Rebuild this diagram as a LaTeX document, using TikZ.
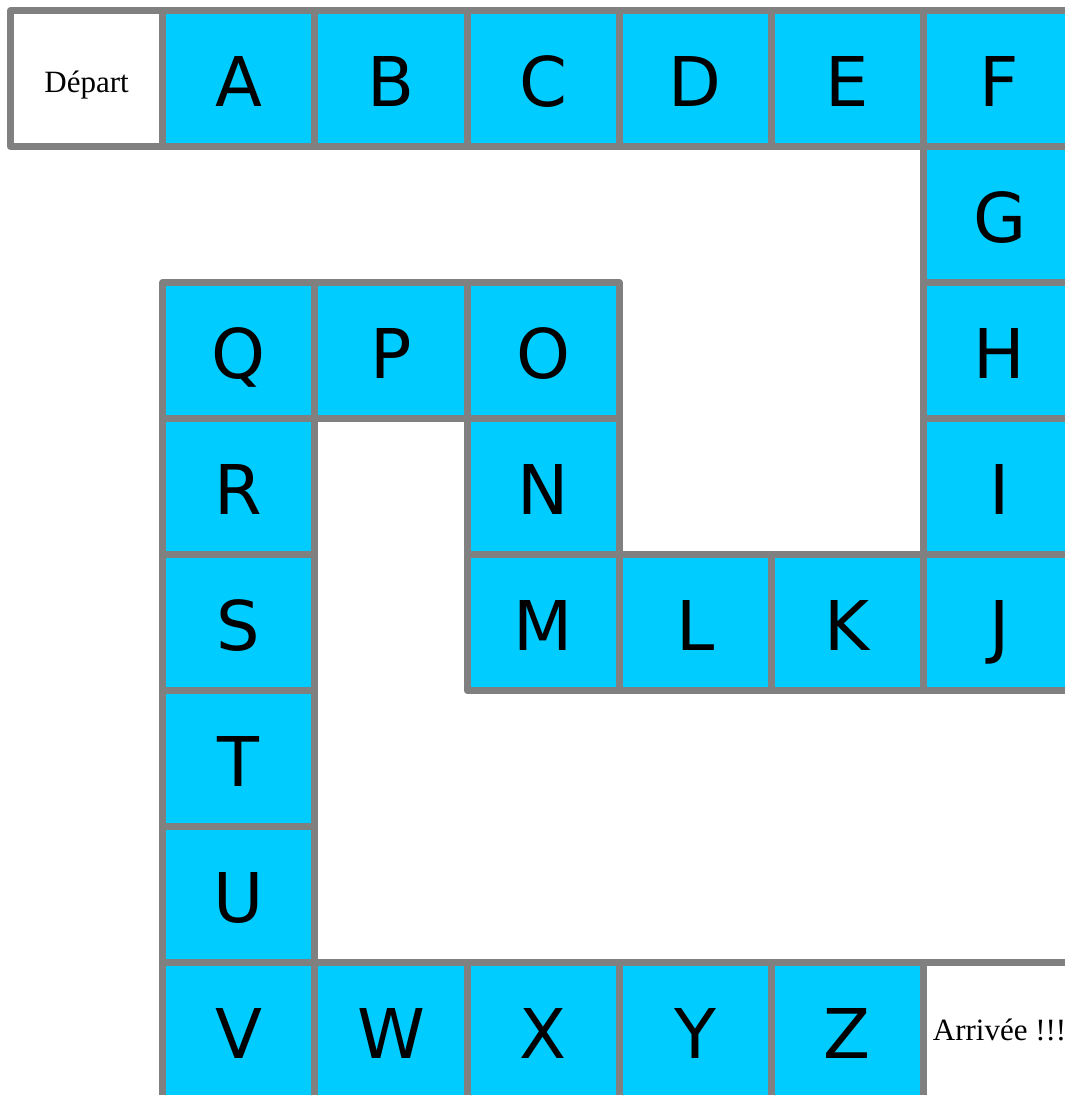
\documentclass[tikz,border=0pt]{standalone}
\usepackage{fontspec}
\setmainfont{Liberation Serif}
\newfontfamily\lettfont{DejaVu Sans}
\definecolor{cellblue}{HTML}{00CCFF}
\definecolor{cellgray}{HTML}{808080}
\tikzset{
  cellbox/.style={draw=cellgray, line width=7pt, line join=round, fill=cellblue,
    minimum width=152.17pt, minimum height=136pt, inner sep=0pt, outer sep=0pt,
    font=\lettfont\fontsize{68.6pt}{70pt}\selectfont, text height=56pt, text depth=0pt},
  endbox/.style={cellbox, fill=white, font=\fontsize{31pt}{33pt}\selectfont}
}
\newcommand{\cx}[1]{\fpeval{10.5+152.17*(#1+0.5)}}
\newcommand{\cy}[1]{\fpeval{10.5+136*(#1+0.5)}}
\begin{document}
\begin{tikzpicture}[x=1pt,y=-1pt]
\useasboundingbox (0,0) rectangle (1065,1095);
\begin{scope}
\clip (0,0) rectangle (1065,1095);
\node[endbox, text height=27pt] (dep) at (\cx{0},\cy{0}) {Départ};
\node[cellbox] (A) at (\cx{1},\cy{0}) {A};
\node[cellbox] (B) at (\cx{2},\cy{0}) {B};
\node[cellbox] (C) at (\cx{3},\cy{0}) {C};
\node[cellbox] (D) at (\cx{4},\cy{0}) {D};
\node[cellbox] (E) at (\cx{5},\cy{0}) {E};
\node[cellbox] (F) at (\cx{6},\cy{0}) {F};
\node[cellbox] (G) at (\cx{6},\cy{1}) {G};
\node[cellbox] (H) at (\cx{6},\cy{2}) {H};
\node[cellbox] (I) at (\cx{6},\cy{3}) {I};
\node[cellbox] (J) at (\cx{6},\cy{4}) {J};
\node[cellbox] (K) at (\cx{5},\cy{4}) {K};
\node[cellbox] (L) at (\cx{4},\cy{4}) {L};
\node[cellbox] (M) at (\cx{3},\cy{4}) {M};
\node[cellbox] (N) at (\cx{3},\cy{3}) {N};
\node[cellbox] (O) at (\cx{3},\cy{2}) {O};
\node[cellbox] (P) at (\cx{2},\cy{2}) {P};
\node[cellbox] (Q) at (\cx{1},\cy{2}) {Q};
\node[cellbox] (R) at (\cx{1},\cy{3}) {R};
\node[cellbox] (S) at (\cx{1},\cy{4}) {S};
\node[cellbox] (T) at (\cx{1},\cy{5}) {T};
\node[cellbox] (U) at (\cx{1},\cy{6}) {U};
\node[cellbox] (V) at (\cx{1},\cy{7}) {V};
\node[cellbox] (W) at (\cx{2},\cy{7}) {W};
\node[cellbox] (X) at (\cx{3},\cy{7}) {X};
\node[cellbox] (Y) at (\cx{4},\cy{7}) {Y};
\node[cellbox] (Z) at (\cx{5},\cy{7}) {Z};
\node[endbox, text height=19pt] (arr) at (\cx{6},\cy{7}) {Arrivée !!!};
\end{scope}
\end{tikzpicture}
\end{document}
